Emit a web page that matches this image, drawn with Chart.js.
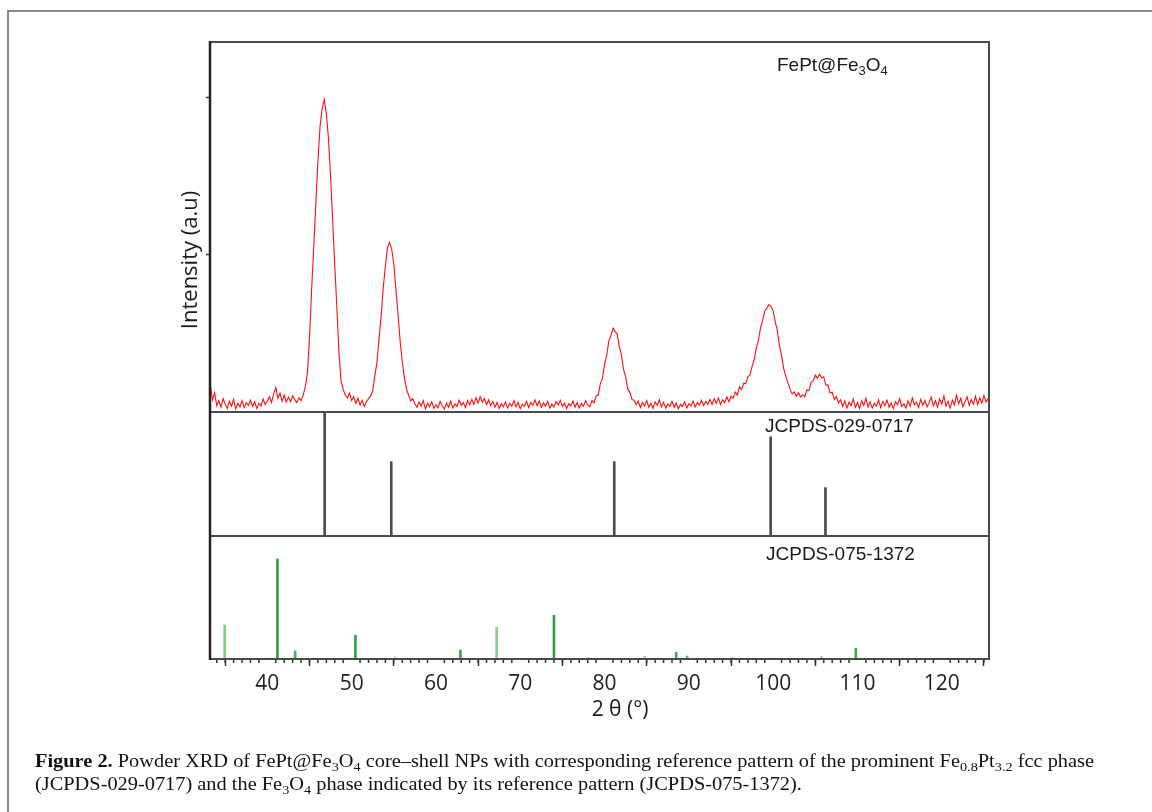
<!DOCTYPE html>
<html>
<head>
<meta charset="utf-8">
<script src="https://cdn.jsdelivr.net/npm/chart.js@4.4.1/dist/chart.umd.min.js"></script>
<style>
html,body{margin:0;padding:0;background:#fff;}
#wrap{position:relative;width:1152px;height:812px;overflow:hidden;background:#fff;}
#frame{position:absolute;left:7px;top:10px;width:1300px;height:900px;border-left:2px solid #8a8a8a;border-top:2px solid #8a8a8a;}
#chart{position:absolute;left:0;top:0;}
#caption{position:absolute;left:35px;top:749px;font-family:"Liberation Serif","Times New Roman",serif;font-size:19px;line-height:23px;color:#111;white-space:nowrap;transform-origin:0 0;}
#caption div{display:inline-block;}
#caption sub{font-size:0.7em;vertical-align:-0.3em;line-height:0;}
</style>
</head>
<body>
<div id="wrap">
  <div id="frame"></div>
  <canvas id="chart" width="1152" height="812"></canvas>
  <div id="caption"><div id="cap1"><b>Figure 2.</b> Powder XRD of FePt@Fe<sub>3</sub>O<sub>4</sub> core–shell NPs with corresponding reference pattern of the prominent Fe<sub>0.8</sub>Pt<sub>3.2</sub> fcc phase</div><br><div id="cap2">(JCPDS-029-0717) and the Fe<sub>3</sub>O<sub>4</sub> phase indicated by its reference pattern (JCPDS-075-1372).</div></div>
</div>
<script>
// ---- measured XRD pattern (2θ in degrees, intensity in arbitrary units) ----
const twoTheta = [
 33.25,33.5,33.75,34,34.25,34.5,34.75,35,35.25,35.5,35.75,36,36.25,36.5,36.75,37,37.25,37.5,37.75,38,
 38.25,38.5,38.75,39,39.25,39.5,39.75,40,40.25,40.5,40.75,41,41.25,41.5,41.75,42,42.25,42.5,42.75,43,
 43.25,43.5,43.75,44,44.25,44.5,44.75,45,45.25,45.5,45.75,46,46.25,46.5,46.75,47,47.25,47.5,47.75,48,
 48.25,48.5,48.75,49,49.25,49.5,49.75,50,50.25,50.5,50.75,51,51.25,51.5,51.75,52,52.25,52.5,52.75,53,
 53.25,53.5,53.75,54,54.25,54.5,54.75,55,55.25,55.5,55.75,56,56.25,56.5,56.75,57,57.25,57.5,57.75,58,
 58.25,58.5,58.75,59,59.25,59.5,59.75,60,60.25,60.5,60.75,61,61.25,61.5,61.75,62,62.25,62.5,62.75,63,
 63.25,63.5,63.75,64,64.25,64.5,64.75,65,65.25,65.5,65.75,66,66.25,66.5,66.75,67,67.25,67.5,67.75,68,
 68.25,68.5,68.75,69,69.25,69.5,69.75,70,70.25,70.5,70.75,71,71.25,71.5,71.75,72,72.25,72.5,72.75,73,
 73.25,73.5,73.75,74,74.25,74.5,74.75,75,75.25,75.5,75.75,76,76.25,76.5,76.75,77,77.25,77.5,77.75,78,
 78.25,78.5,78.75,79,79.25,79.5,79.75,80,80.25,80.5,80.75,81,81.25,81.5,81.75,82,82.25,82.5,82.75,83,
 83.25,83.5,83.75,84,84.25,84.5,84.75,85,85.25,85.5,85.75,86,86.25,86.5,86.75,87,87.25,87.5,87.75,88,
 88.25,88.5,88.75,89,89.25,89.5,89.75,90,90.25,90.5,90.75,91,91.25,91.5,91.75,92,92.25,92.5,92.75,93,
 93.25,93.5,93.75,94,94.25,94.5,94.75,95,95.25,95.5,95.75,96,96.25,96.5,96.75,97,97.25,97.5,97.75,98,
 98.25,98.5,98.75,99,99.25,99.5,99.75,100,100.25,100.5,100.75,101,101.25,101.5,101.75,102,102.25,102.5,102.75,103,
 103.25,103.5,103.75,104,104.25,104.5,104.75,105,105.25,105.5,105.75,106,106.25,106.5,106.75,107,107.25,107.5,107.75,108,
 108.25,108.5,108.75,109,109.25,109.5,109.75,110,110.25,110.5,110.75,111,111.25,111.5,111.75,112,112.25,112.5,112.75,113,
 113.25,113.5,113.75,114,114.25,114.5,114.75,115,115.25,115.5,115.75,116,116.25,116.5,116.75,117,117.25,117.5,117.75,118,
 118.25,118.5,118.75,119,119.25,119.5,119.75,120,120.25,120.5,120.75,121,121.25,121.5,121.75,122,122.25,122.5,122.75,123,
 123.25,123.5,123.75,124,124.25,124.5,124.75,125,125.25,125.5
];
const intensity = [
 6.8,3.1,4.9,1.6,2.9,1.2,3.4,2.0,0.9,2.7,1.5,3.2,0.8,2.2,1.3,2.9,1.1,2.4,1.7,3.0,
 1.4,2.6,0.9,2.2,1.5,3.3,1.9,2.8,3.9,2.4,4.6,6.2,3.5,4.8,2.7,4.3,2.5,3.8,2.6,4.1,
 3.2,2.4,3.6,2.9,4.3,6.4,9.8,18.7,31.0,41.8,52.9,63.7,72.5,77.1,79.4,75.8,69.5,59.9,48.7,37.2,
 26.4,14.8,7.9,5.7,4.3,3.6,4.8,2.9,3.9,2.2,3.5,1.8,3.0,1.4,2.6,3.4,4.1,5.4,9.1,12.6,
 18.6,24.4,31.6,37.0,41.8,43.1,41.4,37.6,31.2,24.9,18.1,12.9,8.8,5.9,4.3,2.8,3.4,2.1,1.2,2.6,
 1.5,2.9,0.8,2.2,1.3,2.6,0.9,1.9,1.1,2.7,1.6,0.7,2.3,1.2,2.8,1.0,2.1,1.4,3.0,1.7,
 2.4,1.1,2.9,1.8,3.2,2.0,3.6,2.3,3.9,2.5,3.4,1.9,3.1,1.6,2.7,1.2,2.4,0.9,2.1,1.3,
 2.6,1.0,2.2,1.5,2.9,1.3,2.4,0.8,2.0,1.4,2.7,1.1,2.5,1.7,3.1,1.6,2.8,1.2,2.3,1.5,
 2.7,1.0,2.0,1.3,2.6,1.8,3.0,1.4,2.3,0.9,2.1,1.6,2.8,1.2,2.4,1.0,2.2,1.5,2.9,1.8,
 1.4,2.9,2.3,4.1,4.3,7.2,8.6,12.1,14.3,18.0,19.4,21.3,20.5,19.8,16.6,14.5,10.8,8.9,5.8,5.0,
 3.2,3.0,1.9,2.8,1.1,2.4,1.5,2.9,1.2,2.2,0.9,2.6,1.7,3.1,1.3,2.5,1.0,2.0,1.4,2.7,
 1.2,2.3,0.8,1.9,1.4,2.6,1.0,2.1,1.5,2.8,1.3,2.4,1.8,3.0,1.6,2.7,2.0,3.2,1.9,3.4,
 2.2,3.6,1.9,3.1,2.4,3.8,2.6,4.0,3.5,5.1,4.3,6.4,5.7,7.3,7.2,9.0,9.4,11.6,13.4,16.3,
 18.2,21.4,23.3,25.6,26.4,27.3,26.8,25.7,22.9,20.6,16.8,14.2,11.0,9.1,7.4,5.8,4.6,5.1,4.0,4.9,
 3.8,4.4,3.9,5.6,5.5,7.6,7.9,9.4,8.6,9.6,8.7,8.9,6.8,6.9,4.8,5.0,3.2,3.9,2.3,3.1,
 1.4,2.8,1.0,2.5,1.6,3.3,1.2,2.4,0.9,2.9,1.7,3.5,1.3,2.6,1.0,2.2,1.5,3.1,1.1,2.7,
 1.6,3.0,1.2,2.3,0.8,2.6,1.9,3.4,1.4,2.1,1.0,2.8,1.5,3.6,1.8,2.5,1.1,3.2,1.7,2.9,
 1.3,2.4,3.8,1.6,2.9,1.2,3.3,2.0,4.1,1.5,2.7,1.0,3.0,1.8,4.3,2.1,3.5,1.4,2.6,3.9,
 1.7,3.2,2.0,4.0,1.9,3.6,2.3,4.2,2.5,3.4
];

// ---- reference pattern JCPDS-029-0717 (Fe0.8Pt3.2 fcc) ----
const fePtPositions   = [46.8, 54.7, 81.15, 99.7, 106.2];
const fePtIntensities = [100, 60, 60, 80, 39];

// ---- reference pattern JCPDS-075-1372 (Fe3O4) ----
const fe3o4Positions   = [34.95, 41.2, 43.3, 50.45, 55.2, 62.9, 67.2, 74.0, 78.05, 84.75, 88.5, 89.8, 95.1, 105.75, 109.8];
const fe3o4Intensities = [27.6, 81.3, 6.5, 19.3, 1.6, 7.3, 25.8, 35.5, 1.2, 2.0, 5.4, 2.4, 1.5, 2.0, 8.7];

// ---- axes / labels ----
const xTickLabels = [40, 50, 60, 70, 80, 90, 100, 110, 120];
const yTopTicks = [40, 80];
const xTitle = '2 θ (°)';
const yTitle = 'Intensity (a.u)';
const sampleLabel = [['FePt@Fe', false], ['3', true], ['O', false], ['4', true]];
const refLabelA = 'JCPDS-029-0717';
const refLabelB = 'JCPDS-075-1372';

// styles (kept separate from the data)
const fe3o4Shades = ['#84c984','#2f9e3a','#4cae52','#34a23d','#a8d8a8','#3da845','#8fce8f','#2f9e3a','#b0dcb0','#8fcf8f','#45ab4a','#6cbd6c','#a8d8a8','#8fcf8f','#45ab4a'];

const decor = {
  id: 'decor',
  afterDatasetsDraw(chart) {
    const {ctx, chartArea: a, scales} = chart;
    const x = scales.x, ym = scales.yMid, yb = scales.yBot;
    ctx.save();
    // minor ticks on x axis
    ctx.strokeStyle = '#333';
    ctx.lineWidth = 1.5;
    for (let v = Math.ceil(x.min); v <= x.max; v++) {
      if (xTickLabels.includes(v)) continue;
      const px = x.getPixelForValue(v);
      ctx.beginPath(); ctx.moveTo(px, a.bottom); ctx.lineTo(px, a.bottom + 4); ctx.stroke();
    }
    // frame and panel separators
    ctx.strokeStyle = '#4a4a4a';
    ctx.lineWidth = 2;
    ctx.beginPath();
    ctx.moveTo(a.left, a.top); ctx.lineTo(a.right, a.top); ctx.lineTo(a.right, a.bottom); ctx.lineTo(a.left, a.bottom);
    ctx.moveTo(a.left, ym.top); ctx.lineTo(a.right, ym.top);
    ctx.moveTo(a.left, yb.top); ctx.lineTo(a.right, yb.top);
    ctx.stroke();
    ctx.strokeStyle = '#222';
    ctx.lineWidth = 2.5;
    ctx.beginPath(); ctx.moveTo(a.left, a.top - 1); ctx.lineTo(a.left, a.bottom + 1); ctx.stroke();

    // annotations
    ctx.fillStyle = '#1a1a1a';
    ctx.textBaseline = 'alphabetic';
    ctx.textAlign = 'left';
    let tx = 777;
    for (const [t, sub] of sampleLabel) {
      ctx.font = sub ? '13px "Liberation Sans", Arial, sans-serif' : '19px "Liberation Sans", Arial, sans-serif';
      ctx.fillText(t, tx, sub ? 75 : 71);
      tx += ctx.measureText(t).width;
    }
    ctx.font = '19px "Liberation Sans", Arial, sans-serif';
    ctx.fillText(refLabelA, 765, ym.top + 20);
    ctx.fillText(refLabelB, 766, yb.top + 24);

    // axis titles
    ctx.font = '21px "Open Sans", sans-serif';
    ctx.textAlign = 'center';
    ctx.fillText(xTitle, 620, 716);
    ctx.translate(191, 260);
    ctx.rotate(-Math.PI / 2);
    ctx.font = '22px "Open Sans", sans-serif';
    ctx.textBaseline = 'middle';
    ctx.fillText(yTitle, 0, 0);
    ctx.restore();
  }
};

const hiddenLeft = (stackWeight, weight) => ({
  type: 'linear', position: 'left', stack: 'panels', stackWeight, weight,
  min: 0, max: 100,
  ticks: {display: false},
  grid: {display: false},
  border: {display: false},
  afterFit(s) { s.width = 10; }
});

new Chart(document.getElementById('chart'), {
  type: 'line',
  data: {
    datasets: [
      {
        type: 'line', label: 'FePt@Fe3O4',
        data: twoTheta.map((t, i) => ({x: t, y: intensity[i]})),
        yAxisID: 'yTop', xAxisID: 'x',
        borderColor: '#ff1010', borderWidth: 1.1, pointRadius: 0, tension: 0, fill: false
      },
      {
        type: 'bar', label: refLabelA,
        data: fePtPositions.map((p, i) => ({x: p, y: fePtIntensities[i]})),
        yAxisID: 'yMid', xAxisID: 'x',
        backgroundColor: '#4d4d4d', barThickness: 2, grouped: false, borderWidth: 0
      },
      {
        type: 'bar', label: refLabelB,
        data: fe3o4Positions.map((p, i) => ({x: p, y: fe3o4Intensities[i]})),
        yAxisID: 'yBot', xAxisID: 'x',
        backgroundColor: fe3o4Shades, barThickness: 2, grouped: false, borderWidth: 0
      }
    ]
  },
  options: {
    responsive: false,
    animation: false,
    events: [],
    layout: {padding: {left: 200, top: 42, right: 163, bottom: 93}},
    plugins: {legend: {display: false}, tooltip: {enabled: false}, title: {display: false}},
    scales: {
      x: {
        type: 'linear', position: 'bottom', min: 33.2, max: 125.6, offset: false,
        afterBuildTicks(s) {
          const t = [];
          for (const v of xTickLabels) t.push({value: v});
          s.ticks = t;
        },
        ticks: {
          autoSkip: false, maxRotation: 0, padding: 5, color: '#222',
          font: {family: '"Open Sans", sans-serif', size: 21},
          callback: (v) => String(v)
        },
        grid: {drawOnChartArea: false, drawTicks: true, tickLength: 7, tickWidth: 1.5, tickColor: '#333'},
        border: {display: false},
        afterFit(s) { s.height = 60; }
      },
      yBot: hiddenLeft(123, 1),
      yMid: hiddenLeft(124, 2),
      yTop: {
        type: 'linear', position: 'left', stack: 'panels', stackWeight: 370, weight: 3,
        min: 0, max: 94,
        afterBuildTicks(s) { s.ticks = yTopTicks.map(v => ({value: v})); },
        ticks: {display: false},
        grid: {display: true, drawOnChartArea: false, drawTicks: true, tickLength: 4, tickWidth: 1.5, tickColor: '#333'},
        border: {display: false},
        afterFit(s) { s.width = 10; }
      }
    }
  },
  plugins: [decor]
});

// fit caption width to the reference
const cap1 = document.getElementById('cap1');
const w = cap1.getBoundingClientRect().width;
document.getElementById('caption').style.transform = 'scaleX(' + (1059 / w) + ')';
</script>
</body>
</html>
